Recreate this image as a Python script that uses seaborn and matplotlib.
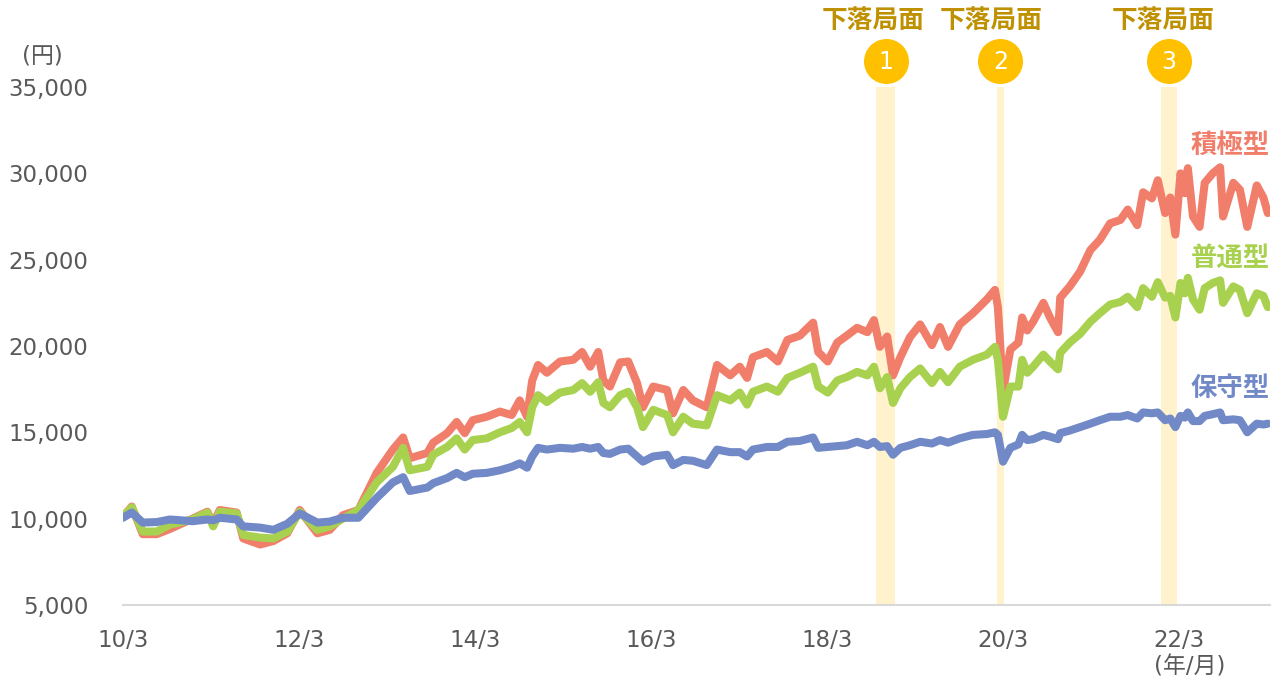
import numpy as np
import pandas as pd
import matplotlib
matplotlib.use("Agg")
import matplotlib.pyplot as plt
import matplotlib.transforms as mtransforms
import seaborn as sns

# ---- data ----
# months elapsed since 2010/3
month_offset = [
    0, 1.2, 2.7, 4.6, 6.4, 9.5, 11.5, 12.3, 13.2, 15.5, 16.4, 18.7, 20.5, 22.4,
    24.1, 26.5, 28.2, 30.0, 32.1, 34.6, 36.8, 38.2, 39.1, 41.5, 42.3, 44.2, 45.5,
    46.6, 47.7, 49.6, 51.4, 53.0, 54.1, 55.1, 55.8, 56.6, 57.8, 59.6, 61.4, 62.6,
    63.7, 64.8, 65.5, 66.4, 67.8, 68.9, 70.1, 70.9, 72.3, 74.2, 75.0, 76.4, 77.7,
    79.6, 81.0, 82.8, 84.1, 85.1, 85.9, 87.8, 89.3, 90.6, 92.3, 94.1, 94.8, 96.1,
    97.4, 98.7, 100.1, 101.5, 102.4, 103.2, 104.2, 105.0, 106.0, 107.3, 108.7,
    110.3, 111.4, 112.5, 114.1, 115.9, 117.8, 118.9, 119.3, 120.0, 121.0, 122.1,
    122.6, 123.3, 124.1, 125.5, 126.4, 127.5, 127.8, 129.1, 130.5, 131.9, 133.2,
    134.6, 136.0, 137.0, 138.3, 139.1, 140.3, 141.1, 142.1, 142.8, 143.5, 144.2,
    144.8, 145.2, 145.9, 146.8, 147.5, 148.6, 149.6, 150.0, 151.4, 152.3, 153.3,
    154.6, 155.5, 156.1,
]

aggressive = [
    10100, 10700, 9100, 9100, 9400, 10000, 10400, 9700, 10500, 10350, 8850, 8500,
    8700, 9150, 10500, 9150, 9350, 10200, 10500, 12650, 14000, 14700, 13500, 13800,
    14400, 14950, 15600, 14950, 15700, 15900, 16200, 16000, 16850, 15900, 18000,
    18900, 18450, 19100, 19200, 19650, 18800, 19650, 18000, 17650, 19050, 19100,
    17850, 16450, 17650, 17450, 16100, 17450, 16850, 16450, 18900, 18300, 18800,
    18150, 19350, 19650, 19100, 20350, 20600, 21350, 19650, 19100, 20200, 20600,
    21050, 20800, 21500, 19950, 20550, 18300, 19350, 20500, 21250, 20050, 21100,
    19950, 21250, 21900, 22700, 23250, 22250, 17400, 19800, 20200, 21650, 20900,
    21400, 22500, 21650, 20800, 22800, 23450, 24300, 25550, 26150, 27100, 27300,
    27900, 27000, 28900, 28550, 29600, 27700, 28600, 26450, 30000, 28850, 30300,
    27500, 26900, 29450, 30000, 30350, 27500, 29450, 29050, 26900, 29300, 28600,
    27700,
]

standard = [
    10100, 10650, 9250, 9250, 9650, 9950, 10350, 9550, 10400, 10300, 9050, 8900,
    8850, 9250, 10400, 9350, 9550, 10000, 10500, 12100, 13000, 14100, 12800, 13000,
    13700, 14150, 14650, 14000, 14550, 14650, 15000, 15250, 15600, 15000, 16450,
    17150, 16750, 17300, 17450, 17850, 17350, 17900, 16700, 16450, 17150, 17350,
    16450, 15300, 16300, 16000, 15000, 15900, 15500, 15400, 17150, 16850, 17300,
    16600, 17350, 17650, 17350, 18150, 18450, 18800, 17650, 17300, 18000, 18200,
    18500, 18300, 18800, 17550, 18200, 16700, 17550, 18200, 18700, 17850, 18500,
    17900, 18800, 19200, 19500, 19950, 19200, 15900, 17650, 17650, 19200, 18450,
    18800, 19500, 19100, 18650, 19600, 20200, 20700, 21400, 21900, 22400, 22550,
    22850, 22250, 23350, 22850, 23700, 22800, 22900, 21650, 23650, 23050, 23950,
    22700, 22100, 23350, 23650, 23800, 22500, 23450, 23250, 21900, 23050, 22900,
    22250,
]

conservative = [
    10050, 10350, 9770, 9800, 9950, 9850, 9950, 9900, 10050, 9950, 9550, 9480,
    9350, 9700, 10300, 9770, 9830, 10050, 10050, 11200, 12100, 12400, 11600, 11800,
    12050, 12350, 12650, 12400, 12600, 12650, 12800, 13000, 13200, 12950, 13600,
    14100, 14000, 14100, 14050, 14150, 14050, 14150, 13800, 13750, 14000, 14050,
    13600, 13300, 13600, 13700, 13100, 13400, 13350, 13100, 14000, 13850, 13850,
    13600, 14000, 14150, 14150, 14450, 14500, 14700, 14100, 14150, 14200, 14250,
    14450, 14250, 14450, 14150, 14200, 13700, 14100, 14250, 14450, 14350, 14550,
    14400, 14650, 14850, 14900, 15000, 14850, 13300, 14100, 14300, 14850, 14550,
    14600, 14850, 14750, 14600, 14950, 15100, 15300, 15500, 15700, 15900, 15900,
    16000, 15800, 16150, 16100, 16150, 15700, 15800, 15300, 15950, 15850, 16150,
    15650, 15650, 15950, 16050, 16150, 15700, 15750, 15700, 15000, 15500, 15450,
    15500,
]

series_names = ["積極型", "普通型", "保守型"]
series_colors = ["#F07E6B", "#A9D150", "#7189C7"]
label_values = [31600, 25100, 17550]

tick_dates = ["2010-03-01", "2012-03-01", "2014-03-01", "2016-03-01",
              "2018-03-01", "2020-03-01", "2022-03-01"]
tick_labels = ["10/3", "12/3", "14/3", "16/3", "18/3", "20/3", "22/3"]

# declines
band_start = ["2018-09-19", "2020-02-06", "2021-12-16"]
band_end = ["2018-12-10", "2020-03-03", "2022-02-21"]
band_titles = ["下落局面", "下落局面", "下落局面"]
band_title_dates = ["2018-09-10", "2020-01-12", "2021-12-25"]
band_numbers = ["1", "2", "3"]

# ---- build table ----
start = pd.Timestamp("2010-03-01")
dates = start + pd.to_timedelta(np.array(month_offset) * 30.44, unit="D")
df = pd.concat([
    pd.DataFrame({"date": dates, "value": vals, "type": name})
    for name, vals in zip(series_names, [aggressive, standard, conservative])
])

sns.set_style("white")
plt.rcParams["font.family"] = ["DejaVu Sans", "Noto Sans CJK JP"]

fig = plt.figure(figsize=(12.81, 6.82), dpi=100)
ax = fig.add_axes([0.096, 0.113, 0.8954, 0.7594])

# shaded decline periods
for s, e in zip(band_start, band_end):
    ax.axvspan(pd.Timestamp(s), pd.Timestamp(e), color="#FFF2CC", lw=0, zorder=0)

sns.lineplot(data=df, x="date", y="value", hue="type", hue_order=series_names,
             palette=series_colors, linewidth=5.8, legend=False, ax=ax,
             solid_capstyle="round", solid_joinstyle="round")

x_end = start + pd.to_timedelta(156.4 * 30.44, unit="D")
ax.set_xlim(start, x_end)
ax.set_ylim(5000, 35000)
ax.set_yticks(range(5000, 35001, 5000))
ax.set_yticklabels([f"{v:,}" for v in range(5000, 35001, 5000)])
ax.set_xticks(pd.to_datetime(tick_dates))
ax.set_xticklabels(tick_labels)
ax.set_xlabel("")
ax.set_ylabel("")

for side in ["left", "right", "top"]:
    ax.spines[side].set_visible(False)
ax.spines["bottom"].set_color("#D9D9D9")
ax.spines["bottom"].set_linewidth(1.5)
ax.tick_params(axis="x", direction="in", length=7, width=1.2, color="#D9D9D9",
               pad=17, labelsize=16.5, labelcolor="#595959")
ax.tick_params(axis="y", length=0, pad=25, labelsize=16.5, labelcolor="#595959")

# series labels at the right end
for name, color, yv in zip(series_names, series_colors, label_values):
    ax.text(x_end, yv, name, ha="right", va="center", fontsize=19,
            fontweight="bold", color=color, family=["Noto Sans CJK JP"])

# decline markers above the plot
trans = mtransforms.blended_transform_factory(ax.transData, ax.transAxes)
for s, e, title, td, num in zip(band_start, band_end, band_titles,
                                band_title_dates, band_numbers):
    mid = pd.Timestamp(s) + (pd.Timestamp(e) - pd.Timestamp(s)) / 2
    ax.scatter([mid], [1.05], s=1050, color="#FFC000", transform=trans,
               clip_on=False, zorder=5, linewidths=0)
    ax.text(mid, 1.048, num, transform=trans, ha="center", va="center",
            fontsize=17, color="white", zorder=6)
    ax.text(pd.Timestamp(td), 1.129, title, transform=trans, ha="center",
            va="center", fontsize=18.5, fontweight="bold", color="#BF9000",
            family=["Noto Sans CJK JP"])

fig.text(42 / 1281, 1 - 56 / 682, "(円)", ha="center", va="center",
         fontsize=16.5, color="#595959")
fig.text(1190 / 1281, 1 - 667 / 682, "(年/月)", ha="center", va="center",
         fontsize=16.5, color="#595959")

fig.savefig("out.png", dpi=100)
